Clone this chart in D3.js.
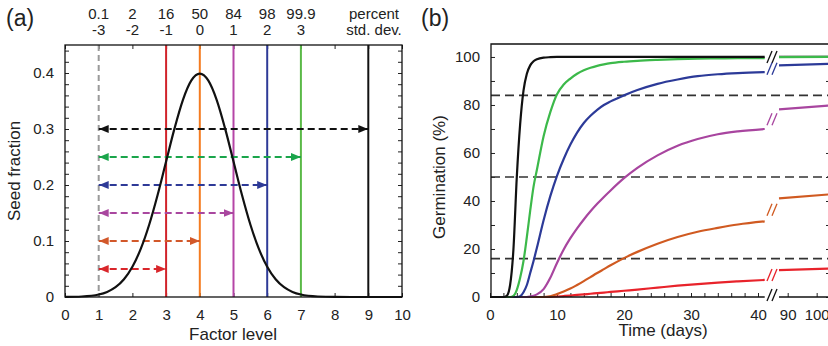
<!DOCTYPE html>
<html>
<head>
<meta charset="utf-8">
<script src="https://cdn.jsdelivr.net/npm/d3@7"></script>
<style>
  body { margin: 0; background: #fff; }
  text { font-family: "Liberation Sans", Arial, sans-serif; fill: #222; }
</style>
</head>
<body>
<div id="chart"></div>
<script>
// ---- panel (a) data ----
var factorLevel = [0,0.5,1,1.25,1.5,1.75,2,2.25,2.5,2.75,3,3.25,3.5,3.75,4,4.25,4.5,4.75,5,5.25,5.5,5.75,6,6.25,6.5,6.75,7,7.5,8,9,10];
var seedFraction = [0.0001,0.0009,0.0044,0.0091,0.0175,0.0317,0.054,0.0863,0.1295,0.1826,0.242,0.3011,0.3521,0.3867,0.3989,0.3867,0.3521,0.3011,0.242,0.1826,0.1295,0.0863,0.054,0.0317,0.0175,0.0091,0.0044,0.0009,0.0001,0,0];
var percentLabels = ["0.1","2","16","50","84","98","99.9"];
var sdLabels = ["-3","-2","-1","0","1","2","3"];
var markLevels = [3,4,5,6,7,9];            // vertical lines
var markColors = ["#d1232a","#f47b20","#b545a6","#2e3a97","#5ab947","#111"];
var arrowEnds = [9,7,6,5,4,3];
var arrowY = [0.3,0.25,0.2,0.15,0.1,0.05];
var arrowColors = ["#111","#1aa54b","#2e3a97","#a9479f","#d2582a","#d9262b"];

// ---- panel (b) data ----
var days = [0,2,2.5,3,3.5,4,4.5,5,5.5,6,6.5,7,8,9,10,11,12,13,14,15,16,17,18,20,22,25,28,31,34,37,41];
var black = [0,0,0.5,5,20,50,72,86,93,96.5,98.2,99,99.7,99.9,100,100,100,100,100,100,100,100,100,100,100,100,100,100,100,100,100];
var green = [0,0,0,0,0.5,3,8,15,25,36,46,53,67,77,84.5,88.5,91,93,94.5,95.5,96.3,96.9,97.4,98,98.4,98.8,99.1,99.3,99.4,99.5,99.55];
var blue = [0,0,0,0,0,0,0.3,2,5,10,15,20.5,32,42,50.5,57.5,63.5,68.5,72.5,75.5,78,80,81.5,84,86.2,88.8,90.6,92,92.8,93.3,93.7];
var magenta = [0,0,0,0,0,0,0,0,0,0.2,0.5,1.1,3.3,8,14.2,19.8,24.5,28.6,32.3,35.7,38.8,41.7,44.4,49.5,53.8,59,63,65.8,67.8,69,70];
var orange = [0,0,0,0,0,0,0,0,0,0,0,0,0,0.3,1.2,2.3,3.5,5,6.6,8.3,10,11.6,13.2,16.2,18.8,22.2,25,27.2,28.8,30.2,31.5];
var red = [0,0,0,0,0,0,0,0,0,0,0,0,0,0.05,0.2,0.4,0.6,0.85,1.1,1.35,1.6,1.85,2.1,2.6,3.1,3.9,4.7,5.4,6,6.5,7.1];
var daysLate = [87,105];
var blackLate = [100,100];
var greenLate = [99.95,100];
var blueLate = [96.5,97.2];
var magentaLate = [78.2,79.8];
var orangeLate = [41.1,42.8];
var redLate = [11.2,11.9];
var refLevels = [84,50,16];

var series = [
  {name:"black", color:"#111", early:black, late:blackLate, brk:true},
  {name:"green", color:"#3cb94a", early:green, late:greenLate, brk:false},
  {name:"blue", color:"#2c3a98", early:blue, late:blueLate, brk:true},
  {name:"magenta", color:"#a8459f", early:magenta, late:magentaLate, brk:true},
  {name:"orange", color:"#d05a21", early:orange, late:orangeLate, brk:true},
  {name:"red", color:"#e8232b", early:red, late:redLate, brk:true}
];

var svg = d3.select("#chart").append("svg")
  .attr("width", 828).attr("height", 346);

// ================= panel (a) =================
var xA = d3.scaleLinear().domain([0,10]).range([65,402]);
var yA = d3.scaleLinear().domain([0,0.45]).range([297,45]);

var defs = svg.append("defs");
arrowColors.forEach(function(c, i){
  defs.append("marker")
    .attr("id", "ah" + i)
    .attr("viewBox", "0 0 10 8")
    .attr("refX", 10).attr("refY", 4)
    .attr("markerWidth", 10).attr("markerHeight", 8)
    .attr("markerUnits", "userSpaceOnUse")
    .attr("orient", "auto-start-reverse")
    .append("path").attr("d", "M0,0L10,4L0,8Z").attr("fill", c);
});

var ga = svg.append("g");

ga.append("g").attr("transform", "translate(0,297)")
  .call(d3.axisBottom(xA).ticks(10).tickSize(-4).tickPadding(12).tickFormat(d3.format("d")))
  .call(function(g){ g.select(".domain").remove(); });
ga.append("g").attr("transform", "translate(0,45)")
  .call(d3.axisTop(xA).ticks(10).tickSize(-4).tickFormat(""))
  .call(function(g){ g.select(".domain").remove(); });
ga.append("g").attr("transform", "translate(65,0)")
  .call(d3.axisLeft(yA).tickValues(d3.range(0,0.45,0.02)).tickSize(-4).tickPadding(11)
    .tickFormat(function(d){ var r = Math.round(d*100); return r % 10 === 0 ? d3.format("~g")(r/100) : ""; }))
  .call(function(g){ g.select(".domain").remove(); });
ga.append("g").attr("transform", "translate(402,0)")
  .call(d3.axisRight(yA).tickValues(d3.range(0,0.45,0.02)).tickSize(-4).tickFormat(""))
  .call(function(g){ g.select(".domain").remove(); });
ga.selectAll(".tick line").attr("stroke", "#222").attr("stroke-width", 1);
ga.selectAll(".tick text").style("font-size", "15px").attr("fill", "#222");

// gray dashed line at -3 sd
ga.append("line")
  .attr("x1", xA(1)).attr("x2", xA(1)).attr("y1", yA(0.45)).attr("y2", yA(0))
  .attr("stroke", "#9a9a9a").attr("stroke-width", 2).attr("stroke-dasharray", "6,4");

ga.selectAll(".vline").data(markLevels).enter().append("line")
  .attr("x1", function(d){ return xA(d); }).attr("x2", function(d){ return xA(d); })
  .attr("y1", yA(0.45)).attr("y2", yA(0))
  .attr("stroke", function(d, i){ return markColors[i]; })
  .attr("stroke-width", 2);

ga.selectAll(".arrow").data(arrowEnds).enter().append("line")
  .attr("x1", xA(1)).attr("x2", function(d){ return xA(d); })
  .attr("y1", function(d, i){ return yA(arrowY[i]); })
  .attr("y2", function(d, i){ return yA(arrowY[i]); })
  .attr("stroke", function(d, i){ return arrowColors[i]; })
  .attr("stroke-width", 2).attr("stroke-dasharray", "7,4")
  .attr("marker-start", function(d, i){ return "url(#ah" + i + ")"; })
  .attr("marker-end", function(d, i){ return "url(#ah" + i + ")"; });

var bell = d3.line()
  .x(function(d){ return xA(d); })
  .y(function(d, i){ return yA(seedFraction[i]); })
  .curve(d3.curveMonotoneX);
ga.append("path").attr("d", bell(factorLevel))
  .attr("fill", "none").attr("stroke", "#111").attr("stroke-width", 2.2);

ga.append("rect").attr("x", 65).attr("y", 45).attr("width", 337).attr("height", 252)
  .attr("fill", "none").attr("stroke", "#111").attr("stroke-width", 1.3);

// top scales
ga.selectAll(".pct").data(percentLabels).enter().append("text")
  .attr("x", function(d, i){ return xA(i + 1); }).attr("y", 19)
  .attr("text-anchor", "middle").style("font-size", "15px").text(function(d){ return d; });
ga.selectAll(".sd").data(sdLabels).enter().append("text")
  .attr("x", function(d, i){ return xA(i + 1); }).attr("y", 35)
  .attr("text-anchor", "middle").style("font-size", "15px").text(function(d){ return d; });
ga.append("text").attr("x", 374).attr("y", 19).attr("text-anchor", "middle")
  .style("font-size", "15px").text("percent");
ga.append("text").attr("x", 374).attr("y", 35).attr("text-anchor", "middle")
  .style("font-size", "15px").text("std. dev.");

ga.append("text").attr("x", 233).attr("y", 340).attr("text-anchor", "middle")
  .style("font-size", "17px").text("Factor level");
ga.append("text").attr("transform", "translate(20,171) rotate(-90)").attr("text-anchor", "middle")
  .style("font-size", "17px").text("Seed fraction");
ga.append("text").attr("x", 6).attr("y", 26).style("font-size", "23px").text("(a)");

// ================= panel (b) =================
var xB1 = d3.scaleLinear().domain([0,41]).range([490,764.7]);
var xB2 = d3.scaleLinear().domain([87,104.6]).range([779,830]);
var yB = d3.scaleLinear().domain([0,105.4]).range([297,44]);
var breakX = 772;

var gb = svg.append("g");

gb.append("g").attr("transform", "translate(0,297)")
  .call(d3.axisBottom(xB1).tickValues(d3.range(0,41,2)).tickSize(-4).tickPadding(12)
    .tickFormat(function(d){ return d % 10 === 0 ? d : ""; }))
  .call(function(g){ g.select(".domain").remove(); });
gb.append("g").attr("transform", "translate(0,297)")
  .call(d3.axisBottom(xB2).tickValues([90,100]).tickSize(-4).tickPadding(12))
  .call(function(g){ g.select(".domain").remove(); });
gb.append("g").attr("transform", "translate(491,0)")
  .call(d3.axisLeft(yB).tickValues(d3.range(0,101,10)).tickSize(-4).tickPadding(11)
    .tickFormat(function(d){ return d % 20 === 0 ? d : ""; }))
  .call(function(g){ g.select(".domain").remove(); });
gb.append("g").attr("transform", "translate(830,0)")
  .call(d3.axisRight(yB).tickValues(d3.range(0,101,10)).tickSize(-4).tickFormat(""))
  .call(function(g){ g.select(".domain").remove(); });
gb.selectAll(".tick line").attr("stroke", "#222").attr("stroke-width", 1);
gb.selectAll(".tick text").style("font-size", "15px").attr("fill", "#222");

// reference levels
gb.selectAll(".ref").data(refLevels).enter().append("line")
  .attr("x1", 491).attr("x2", 830)
  .attr("y1", function(d){ return yB(d); }).attr("y2", function(d){ return yB(d); })
  .attr("stroke", "#333").attr("stroke-width", 1.6).attr("stroke-dasharray", "9,5");

var lineEarly = d3.line()
  .x(function(d){ return xB1(d[0]); }).y(function(d){ return yB(d[1]); })
  .curve(d3.curveMonotoneX);
var lineLate = d3.line()
  .x(function(d){ return xB2(d[0]); }).y(function(d){ return yB(d[1]); });

// early part: black on top; late part: green on top
series.slice().reverse().forEach(function(s){
  gb.append("path").attr("d", lineEarly(d3.zip(days, s.early)))
    .attr("fill", "none").attr("stroke", s.color).attr("stroke-width", 2.2);
});
series.forEach(function(s){
  gb.append("path").attr("d", lineLate(d3.zip(daysLate, s.late)))
    .attr("fill", "none").attr("stroke", s.color).attr("stroke-width", 2.2);
});

function breakMark(cy, color){
  [-2.5, 2.5].forEach(function(off){
    gb.append("line")
      .attr("x1", breakX + off - 2.5).attr("y1", cy + 6)
      .attr("x2", breakX + off + 2.5).attr("y2", cy - 6)
      .attr("stroke", color).attr("stroke-width", 1.3);
  });
}
series.forEach(function(s){
  if (!s.brk) return;
  var y1 = yB(s.early[s.early.length - 1]), y2 = yB(s.late[0]);
  breakMark((y1 + y2) / 2, s.color);
});

// frame with broken bottom axis
gb.append("path")
  .attr("d", "M491,297V44H830")
  .attr("fill", "none").attr("stroke", "#111").attr("stroke-width", 1.3);
gb.append("line").attr("x1", 491).attr("x2", xB1(41)).attr("y1", 297).attr("y2", 297)
  .attr("stroke", "#111").attr("stroke-width", 1.3);
gb.append("line").attr("x1", xB2(87)).attr("x2", 830).attr("y1", 297).attr("y2", 297)
  .attr("stroke", "#111").attr("stroke-width", 1.3);
breakMark(295, "#111");

gb.append("text").attr("x", 663).attr("y", 336).attr("text-anchor", "middle")
  .style("font-size", "17px").text("Time (days)");
gb.append("text").attr("transform", "translate(445,177) rotate(-90)").attr("text-anchor", "middle")
  .style("font-size", "17px").text("Germination (%)");
gb.append("text").attr("x", 421).attr("y", 26).style("font-size", "23px").text("(b)");
</script>
</body>
</html>
